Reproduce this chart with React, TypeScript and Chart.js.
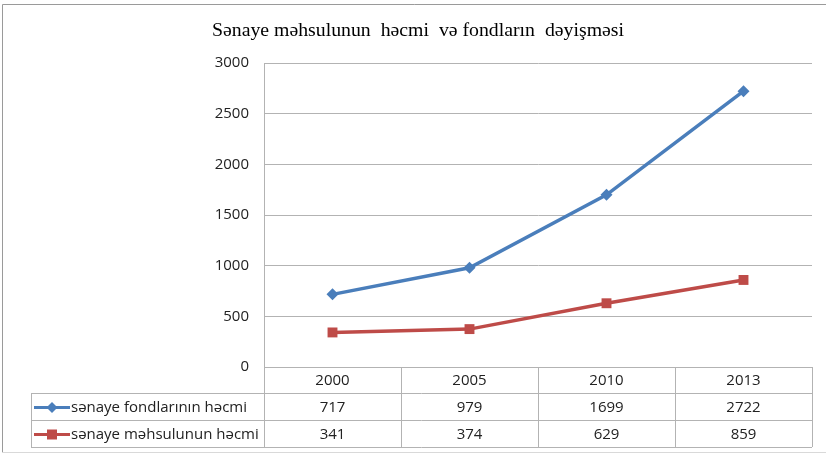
import React, { useEffect, useRef } from "react";
import { Chart, registerables } from "chart.js";

Chart.register(...registerables);

const TITLE = "Sənaye məhsulunun  həcmi  və fondların  dəyişməsi";
const categories = ["2000", "2005", "2010", "2013"];
const seriesNames = ["sənaye fondlarının həcmi", "sənaye məhsulunun həcmi"];
const fondlar = [717, 979, 1699, 2722];
const mehsul = [341, 374, 629, 859];
const yTicks = [0, 500, 1000, 1500, 2000, 2500, 3000];

const BLUE = "#4a7ebb";
const RED = "#be4b48";
const GRID = "#b3b3b3";
const FONT = "'Open Sans', 'Liberation Sans', sans-serif";

const tablePlugin = {
  id: "dataTable",
  afterDraw(chart: any) {
    const ctx = chart.ctx as CanvasRenderingContext2D;
    const area = chart.chartArea;
    const W = chart.width;
    ctx.save();
    // outer frame
    ctx.strokeStyle = "#9a9a9a";
    ctx.lineWidth = 1;
    ctx.beginPath();
    ctx.moveTo(2.5, 452);
    ctx.lineTo(2.5, 4.5);
    ctx.lineTo(W, 4.5);
    ctx.stroke();
    ctx.strokeStyle = "#d9d9d9";
    ctx.beginPath();
    ctx.moveTo(2, 452.5);
    ctx.lineTo(W, 452.5);
    ctx.stroke();

    // title
    ctx.fillStyle = "#000";
    ctx.font = "19.8px 'Liberation Serif', 'DejaVu Serif', serif";
    ctx.textAlign = "center";
    ctx.textBaseline = "middle";
    ctx.fillText(TITLE, 418, 31);

    // table
    const left = area.left;
    const right = area.right;
    const top = area.bottom;
    const rowH = [26, 27, 27];
    const rows = [top, top + rowH[0], top + rowH[0] + rowH[1], top + rowH[0] + rowH[1] + rowH[2]];
    const labelLeft = 31;
    const colW = (right - left) / categories.length;
    ctx.strokeStyle = GRID;
    ctx.lineWidth = 1;
    ctx.beginPath();
    ctx.moveTo(left, rows[0] + 0.5);
    ctx.lineTo(right, rows[0] + 0.5);
    for (let i = 1; i < rows.length; i++) {
      ctx.moveTo(labelLeft, rows[i] + 0.5);
      ctx.lineTo(right, rows[i] + 0.5);
    }
    ctx.moveTo(labelLeft + 0.5, rows[1]);
    ctx.lineTo(labelLeft + 0.5, rows[3]);
    for (let c = 0; c <= categories.length; c++) {
      const x = Math.round(left + c * colW) + 0.5;
      ctx.moveTo(x, rows[0]);
      ctx.lineTo(x, rows[3]);
    }
    ctx.stroke();

    ctx.fillStyle = "#222";
    ctx.font = "15px " + FONT;
    ctx.textAlign = "center";
    ctx.textBaseline = "middle";
    const xs = chart.scales.x;
    categories.forEach((cat, i) => {
      const cx = xs.getPixelForValue(i);
      ctx.fillText(cat, cx, (rows[0] + rows[1]) / 2 + 1);
    });
    const series = [fondlar, mehsul];
    series.forEach((vals, s) => {
      const cy = (rows[s + 1] + rows[s + 2]) / 2 + 1;
      vals.forEach((v, i) => {
        const cx = xs.getPixelForValue(i);
        ctx.fillStyle = "#222";
        ctx.fillText(String(v), cx, cy);
      });
      const color = s === 0 ? BLUE : RED;
      ctx.strokeStyle = color;
      ctx.fillStyle = color;
      ctx.lineWidth = 3;
      ctx.beginPath();
      ctx.moveTo(34, cy);
      ctx.lineTo(70, cy);
      ctx.stroke();
      ctx.beginPath();
      if (s === 0) {
        ctx.moveTo(52, cy - 5.5);
        ctx.lineTo(57.5, cy);
        ctx.lineTo(52, cy + 5.5);
        ctx.lineTo(46.5, cy);
        ctx.closePath();
      } else {
        ctx.rect(47, cy - 5, 10, 10);
      }
      ctx.fill();
      ctx.fillStyle = "#222";
      ctx.textAlign = "left";
      ctx.fillText(seriesNames[s], 71, cy);
      ctx.textAlign = "center";
    });
    ctx.restore();
  },
};

export default function App() {
  const ref = useRef<HTMLCanvasElement | null>(null);
  useEffect(() => {
    document.body.style.margin = "0";
    const canvas = ref.current;
    if (!canvas) return;
    const chart = new Chart(canvas, {
      type: "line",
      data: {
        labels: categories,
        datasets: [
          {
            label: seriesNames[0],
            data: fondlar,
            borderColor: BLUE,
            backgroundColor: BLUE,
            borderWidth: 3.5,
            pointStyle: "rectRot",
            pointRadius: 6,
            pointBorderWidth: 0,
            tension: 0,
          },
          {
            label: seriesNames[1],
            data: mehsul,
            borderColor: RED,
            backgroundColor: RED,
            borderWidth: 3.5,
            pointStyle: "rect",
            pointRadius: 7,
            pointBorderWidth: 0,
            tension: 0,
          },
        ],
      },
      options: {
        responsive: false,
        animation: false,
        layout: { padding: { left: 0, right: 14, top: 63, bottom: 89 } },
        plugins: {
          legend: { display: false },
          title: { display: false },
          tooltip: { enabled: false },
        },
        scales: {
          x: { display: false, offset: true },
          y: {
            min: 0,
            max: 3000,
            afterBuildTicks: (scale: any) => {
              scale.ticks = yTicks.map((v) => ({ value: v }));
            },
            afterFit: (scale: any) => {
              scale.width = 264;
            },
            grid: { color: GRID, lineWidth: 1, drawTicks: false },
            border: { display: true, color: GRID, width: 1 },
            ticks: {
              padding: 15,
              color: "#222",
              font: { family: FONT, size: 15 },
              callback: (v: any) => String(v),
            },
          },
        },
      },
      plugins: [tablePlugin],
    });
    return () => chart.destroy();
  }, []);
  return (
    <div style={{ position: "absolute", left: 0, top: 0, width: 826, height: 456, background: "#fff" }}>
      <canvas ref={ref} width={826} height={456} />
    </div>
  );
}
